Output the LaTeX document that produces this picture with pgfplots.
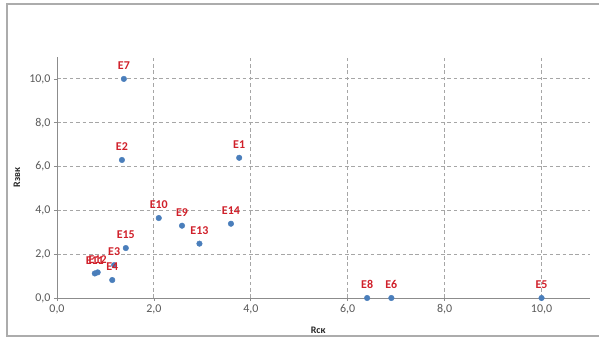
\documentclass[border=0pt]{standalone}
\usepackage{fontspec}
\setmainfont{Carlito}
\usepackage{pgfplots}
\pgfplotsset{compat=1.18}
\definecolor{dotblue}{HTML}{4A7EBB}
\definecolor{lblred}{HTML}{D0202A}
\definecolor{gridgray}{HTML}{A6A6A6}
\definecolor{axgray}{HTML}{8C8C8C}
\definecolor{ticktext}{HTML}{595959}
\begin{document}
\begin{tikzpicture}
\path[use as bounding box] (0,0) rectangle (599bp,338bp);
\draw[line width=1.3bp, color=gray!65] (599bp,334bp) -- (7bp,334bp) -- (7bp,2bp) -- (599bp,2bp);
\begin{axis}[
  at={(57bp,40bp)}, anchor=south west,
  scale only axis, width=533bp, height=241bp,
  xmin=0, xmax=11, ymin=0, ymax=11,
  xtick={0,2,...,10}, ytick={0,2,...,10},
  axis x line*=bottom, axis y line*=left,
  axis line style={axgray, line width=1bp, -},
  tick align=outside, major tick length=3bp,
  tick style={axgray, line width=0.8bp},
  grid=major,
  major grid style={gridgray, line width=1bp, dash pattern=on 3.6bp off 2.8bp},
  /pgf/number format/.cd, fixed, fixed zerofill, precision=1, use comma, assume math mode=true,
  /pgfplots/.cd,
  tick label style={font=\fontsize{12}{14}\selectfont, text=ticktext},
  xlabel={Rск}, ylabel={Rзвк},
  label style={font=\fontsize{10}{11}\selectfont\bfseries, text=black!85},
  xlabel style={at={(axis description cs:0.49,-0.133)}, anchor=center},
  ylabel style={at={(axis description cs:-0.075,0.5)}, anchor=center},
  clip=false,
  nodes near coords,
  point meta=explicit symbolic,
  every node near coord/.append style={anchor=south, inner sep=0pt, yshift=9bp,
     font=\fontsize{12}{13}\selectfont\bfseries, text=lblred},
]
\addplot[only marks, mark=*, mark size=2.8bp, color=dotblue] table[meta=lbl] {
x y lbl
3.76 6.40 E1
1.34 6.30 E2
1.18 1.50 E3
1.14 0.82 E4
10.0 0.00 E5
6.90 0.00 E6
1.38 10.0 E7
6.40 0.00 E8
2.58 3.30 E9
2.10 3.65 E10
0.78 1.12 E11
0.84 1.17 E12
2.94 2.48 E13
3.59 3.39 E14
1.42 2.28 E15
};
\end{axis}
\end{tikzpicture}
\end{document}
